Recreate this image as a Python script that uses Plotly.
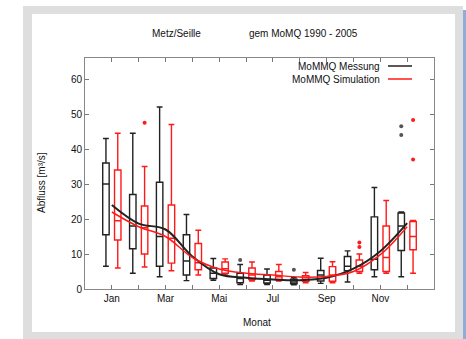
import plotly.graph_objects as go

# ---------------- data ----------------
months = list(range(1, 13))
month_labels = ['Jan', '', 'Mar', '', 'Mai', '', 'Jul', '', 'Sep', '', 'Nov', '']

mess_min = [6.5, 4.5, 3.5, 2.4, 2.5, 1.3, 1.3, 1.2, 1.6, 2.0, 3.5, 3.5]
mess_q1 = [15.5, 11.5, 6.5, 4.0, 3.0, 1.8, 1.7, 1.5, 2.3, 5.2, 5.5, 11.0]
mess_med = [30.0, 18.0, 15.0, 8.0, 4.5, 3.0, 2.5, 2.0, 4.0, 6.5, 8.5, 18.0]
mess_q3 = [36.0, 27.0, 30.5, 15.5, 6.0, 4.5, 4.0, 2.8, 5.3, 9.3, 20.6, 21.7]
mess_max = [43.0, 44.5, 52.0, 21.3, 8.7, 7.0, 5.7, 3.3, 8.8, 10.9, 29.0, 22.0]
mess_out_month = [6, 8, 12, 12]
mess_out_val = [8.3, 5.5, 44.0, 46.5]
mess_mean = [24.0, 18.7, 17.0, 9.3, 4.2, 3.2, 2.7, 2.5, 3.2, 5.8, 10.8, 18.8]

sim_min = [6.0, 6.3, 5.2, 4.0, 4.0, 2.3, 2.3, 1.8, 1.8, 4.5, 4.5, 4.5]
sim_q1 = [14.0, 10.0, 7.4, 5.5, 4.5, 2.7, 2.7, 2.2, 2.2, 5.0, 5.0, 11.2]
sim_med = [19.5, 17.5, 14.5, 7.5, 5.8, 4.0, 3.5, 2.8, 4.0, 6.5, 9.0, 15.0]
sim_q3 = [34.0, 23.7, 24.0, 13.0, 7.7, 6.0, 5.0, 3.8, 6.4, 8.3, 18.0, 19.3]
sim_max = [44.5, 35.0, 47.0, 16.8, 8.6, 7.7, 7.0, 4.7, 7.8, 10.0, 25.3, 19.6]
sim_out_month = [2, 10, 10, 12, 12]
sim_out_val = [47.5, 12.0, 13.3, 37.0, 48.3]
sim_mean = [22.0, 17.8, 15.0, 9.0, 5.7, 4.5, 4.0, 3.4, 3.6, 5.0, 9.8, 17.8]

title_left = 'Metz/Seille'
title_right = 'gem MoMQ 1990 - 2005'
legend_names = ['MoMMQ Messung', 'MoMMQ Simulation']
y_title = 'Abfluss [m³/s]'
x_title = 'Monat'

# ---------------- style ----------------
W, H = 466, 339
ML, MR, MT, MB = 85, 32, 58, 50
PW, PH = W - ML - MR, H - MT - MB
OFF = 0.22
BLACK = '#222222'
RED = '#ff1a1a'
FONT = 'Liberation Sans, Arial, sans-serif'


def px(x):
    return (x - ML) / PW


def py(y):
    return (H - MB - y) / PH


fig = go.Figure()

fig.add_trace(go.Box(
    x=[m - OFF for m in months], q1=mess_q1, median=mess_med, q3=mess_q3,
    lowerfence=mess_min, upperfence=mess_max, width=0.24, whiskerwidth=0.9,
    line=dict(color=BLACK, width=1.4), fillcolor='rgba(255,255,255,0)',
    boxpoints=False, showlegend=False, hoverinfo='skip'))
fig.add_trace(go.Box(
    x=[m + OFF for m in months], q1=sim_q1, median=sim_med, q3=sim_q3,
    lowerfence=sim_min, upperfence=sim_max, width=0.24, whiskerwidth=0.9,
    line=dict(color=RED, width=1.4), fillcolor='rgba(255,255,255,0)',
    boxpoints=False, showlegend=False, hoverinfo='skip'))

fig.add_trace(go.Scatter(
    x=[m - OFF for m in mess_out_month], y=mess_out_val, mode='markers',
    marker=dict(color='#555555', size=4), showlegend=False))
fig.add_trace(go.Scatter(
    x=[m + OFF for m in sim_out_month], y=sim_out_val, mode='markers',
    marker=dict(color=RED, size=4), showlegend=False))

fig.add_trace(go.Scatter(
    x=months, y=mess_mean, mode='lines', line=dict(color=BLACK, width=2, shape='spline'),
    showlegend=False))
fig.add_trace(go.Scatter(
    x=months, y=sim_mean, mode='lines', line=dict(color=RED, width=1.5, shape='spline'),
    showlegend=False))

shapes = [
    dict(type='rect', xref='paper', yref='paper', x0=px(23), x1=px(463), y0=py(6), y1=py(340),
         fillcolor='#dedede', line=dict(width=0), layer='below'),
    dict(type='rect', xref='paper', yref='paper', x0=px(32), x1=px(455), y0=py(14), y1=py(332),
         fillcolor='white', line=dict(width=0), layer='below'),
    dict(type='rect', xref='paper', yref='paper', x0=px(463), x1=px(467), y0=py(10), y1=py(340),
         fillcolor='#92acd9', line=dict(width=0), layer='below'),
    # legend samples
    dict(type='line', xref='paper', yref='paper', x0=px(388), x1=px(412), y0=py(66), y1=py(66),
         line=dict(color=BLACK, width=1.5)),
    dict(type='line', xref='paper', yref='paper', x0=px(388), x1=px(412), y0=py(79), y1=py(79),
         line=dict(color=RED, width=1.5)),
]

ann_font = dict(family=FONT, size=10, color='#111111')
annotations = [
    dict(text=title_left, x=px(176), y=py(33), xref='paper', yref='paper', showarrow=False,
         font=ann_font, xanchor='center', yanchor='middle'),
    dict(text=title_right, x=px(303), y=py(33), xref='paper', yref='paper', showarrow=False,
         font=ann_font, xanchor='center', yanchor='middle'),
    dict(text=legend_names[0], x=px(382), y=py(66), xref='paper', yref='paper', showarrow=False,
         font=ann_font, xanchor='right', yanchor='middle'),
    dict(text=legend_names[1], x=px(382), y=py(79), xref='paper', yref='paper', showarrow=False,
         font=ann_font, xanchor='right', yanchor='middle'),
    dict(text=y_title, x=px(41), y=py(183), xref='paper', yref='paper', showarrow=False,
         font=ann_font, xanchor='center', yanchor='middle', textangle=-90),
    dict(text=x_title, x=px(257), y=py(322), xref='paper', yref='paper', showarrow=False,
         font=ann_font, xanchor='center', yanchor='middle'),
]

fig.update_layout(
    width=W, height=H, margin=dict(l=ML, r=MR, t=MT, b=MB),
    paper_bgcolor='white', plot_bgcolor='rgba(0,0,0,0)',
    boxmode='overlay', showlegend=False,
    shapes=shapes, annotations=annotations,
    font=dict(family=FONT, size=10, color='#111111'),
    xaxis=dict(range=[0, 13], tickvals=months, ticktext=month_labels,
               ticks='inside', ticklen=4, tickcolor='#777777', showgrid=False, zeroline=False,
               showline=True, linecolor='#888888', linewidth=1, mirror='allticks',
               tickfont=dict(size=10)),
    yaxis=dict(range=[0, 66], tickvals=[0, 10, 20, 30, 40, 50, 60],
               ticks='inside', ticklen=4, tickcolor='#777777', showgrid=False, zeroline=False,
               showline=True, linecolor='#888888', linewidth=1, mirror='allticks',
               tickfont=dict(size=10)),
)

fig.write_html('out.html')
